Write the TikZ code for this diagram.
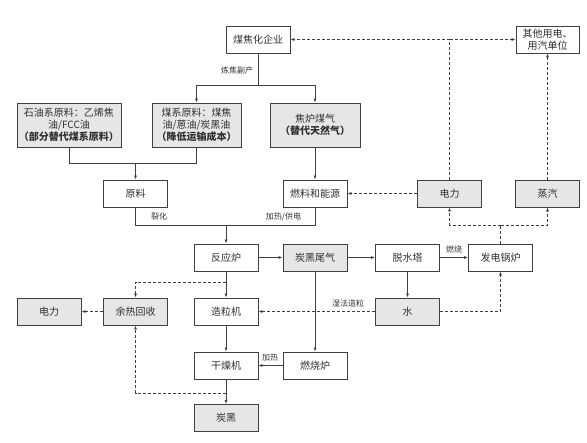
\documentclass[tikz,border=0pt]{standalone}
\usepackage{fontspec}
\setmainfont{Noto Sans CJK SC}
\usetikzlibrary{arrows.meta}
\definecolor{linegray}{HTML}{404040}
\definecolor{boxfill}{HTML}{E6E6E6}
\definecolor{textgray}{HTML}{303030}
\tikzset{
	box/.style={draw=linegray, line width=0.9pt, fill=white, minimum width=64pt, minimum height=27pt, inner sep=1pt, align=center, text=textgray, font=\fontsize{10}{12}\selectfont},
	graybox/.style={box, fill=boxfill},
	lbl/.style={font=\fontsize{8}{9}\selectfont, text=textgray, inner sep=1pt},
	line/.style={draw=linegray, line width=0.7pt},
	arr/.style={line, -{Latex[length=4pt,width=3pt]}},
	dline/.style={line, dash pattern=on 3pt off 2pt},
	darr/.style={dline, -{Latex[length=4pt,width=3pt]}}
}
\begin{document}
\begin{tikzpicture}[x=1pt, y=-1pt]
		\useasboundingbox (0,0) rectangle (587,443);
		%top row
		\node[box] (coke) at (258,39.5) {煤焦化企业};
		\node[box, minimum width=63pt] (other) at (547.5,39.5) {其他用电、\\用汽单位};
		
		%by-products
		\node[graybox, minimum width=104pt, minimum height=44pt] (petro) at (69,125) {石油系原料：乙烯焦\\油/FCC油\\\textbf{（部分替代煤系原料）}};
		\node[graybox, minimum width=89pt, minimum height=44pt] (coalraw) at (196.5,125) {煤系原料：煤焦\\油/蒽油/炭黑油\\\textbf{（降低运输成本）}};
		\node[graybox, minimum width=90pt, minimum height=44pt] (cog) at (315,125) {焦炉煤气\\\textbf{（替代天然气）}};
		
		\node[box] (raw) at (135.5,193.5) {原料};
		\node[box] (fuel) at (315,193.5) {燃料和能源};
		\node[graybox] (power) at (449.5,193.5) {电力};
		\node[graybox] (steam) at (547.5,193.5) {蒸汽};
		
		%process
		\node[box] (reactor) at (226,257.5) {反应炉};
		\node[graybox] (tailgas) at (315,257.5) {炭黑尾气};
		\node[box] (dehyd) at (407.5,257.5) {脱水塔};
		\node[box] (boiler) at (500.5,257.5) {发电锅炉};
		
		\node[graybox] (power2) at (49,311.5) {电力};
		\node[graybox] (heatrec) at (135.5,311.5) {余热回收};
		\node[box] (granul) at (226,311.5) {造粒机};
		\node[graybox] (water) at (407.5,311.5) {水};
		
		\node[box] (dryer) at (226,365.5) {干燥机};
		\node[box] (burner) at (315,365.5) {燃烧炉};
		\node[graybox] (cb) at (226,418) {炭黑};
		
		%junctions
		\coordinate (split) at (258,85);
		\coordinate (mix) at (135.5,163);
		\coordinate (feed) at (226,225);
		\coordinate (bsplit) at (500.5,225);
		\coordinate (ptop) at (449.5,39.5);
		\coordinate (rtap) at (226,282);
		\coordinate (dtap) at (226,393);
		
		%solid connectors
		\draw[line] (coke.south) -- (split);
		\draw[arr] (split) -| (coalraw.north);
		\draw[arr] (split) -| (cog.north);
		\node[lbl] (lblby) at (237,70) {炼焦副产};
		\draw[line] (petro.south) |- (mix);
		\draw[line] (coalraw.south) |- (mix);
		\draw[arr] (mix) -- (raw.north);
		\draw[arr] (cog) -- (fuel);
		\draw[line] (raw.south) |- (feed);
		\draw[line] (fuel.south) |- (feed);
		\draw[arr] (feed) -- (reactor.north);
		\node[lbl] (lblcrack) at (159,216) {裂化};
		\node[lbl] (lblheat) at (283.5,217) {加热/供电};
		\draw[arr] (reactor) -- (tailgas);
		\draw[arr] (tailgas) -- (dehyd);
		\draw[arr] (dehyd) -- (boiler);
		\node[lbl] (lblburn) at (454,249.5) {燃烧};
		\draw[arr] (dehyd) -- (water);
		\draw[arr] (reactor) -- (granul);
		\draw[arr] (granul) -- (dryer);
		\draw[arr] (dryer) -- (cb);
		\draw[arr] (tailgas) -- (burner);
		\draw[arr] (burner) -- (dryer);
		\node[lbl] (lblheat2) at (270,357) {加热};
		
		%dashed connectors
		\draw[dline] (boiler.north) -- (bsplit);
		\draw[darr] (bsplit) -| (power.south);
		\draw[darr] (bsplit) -| (steam.south);
		\draw[darr] (power) -- (fuel);
		\draw[dline] (power.north) -- (ptop);
		\draw[darr] (ptop) -- (coke.east);
		\draw[darr] (ptop) -- (other.west);
		\draw[darr] (steam) -- (other);
		\draw[darr] (water) -- (granul);
		\node[lbl] (lblwet) at (348,303) {湿法造粒};
		\draw[darr] (water.east) -| (boiler.south);
		\draw[darr] (rtap) -| (heatrec.north);
		\draw[darr] (dtap) -| (heatrec.south);
		\draw[darr] (heatrec) -- (power2);
\end{tikzpicture}
\end{document}
